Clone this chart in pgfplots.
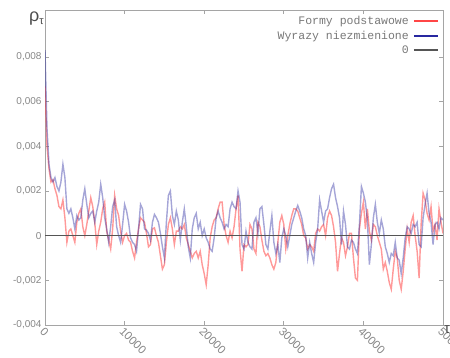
\documentclass[border=0pt]{standalone}
\usepackage{pgfplots}
\pgfplotsset{compat=1.18}
\usepackage{pgfplotstable}
\usepackage{fontspec}
\setmainfont{Liberation Sans}
\newfontfamily\legendfont{Liberation Mono}

\definecolor{formred}{RGB}{255,70,70}
\definecolor{wyrblue}{RGB}{40,40,160}
\definecolor{zerogray}{RGB}{85,85,85}
\definecolor{axgray}{RGB}{165,165,165}
\definecolor{labgray}{RGB}{135,135,135}
\definecolor{leggray}{RGB}{120,120,120}

% autocorrelation rho_tau against lag tau
% forms = "Formy podstawowe", invariant = "Wyrazy niezmienione"
\pgfplotstableread{
x forms invariant
0 0.0067 0.0083
250 0.0040 0.0048
500 0.0030 0.0032
750 0.0024 0.0026
1000 0.0025 0.0024
1250 0.0021 0.0026
1500 0.0018 0.0022
1750 0.0013 0.0020
2000 0.0012 0.0024
2250 0.0016 0.0032
2500 0.0008 0.0026
2750 -0.0003 0.0012
3000 0.0002 0.0010
3250 0.0003 0.0012
3500 0.0000 0.0008
3750 -0.0003 0.0003
4000 0.0006 0.0009
4250 0.0010 0.0007
4500 0.0012 0.0008
4750 0.0004 0.0016
5000 0.0000 0.0021
5250 0.0005 0.0014
5500 0.0011 0.0008
5750 0.0017 0.0010
6000 0.0013 0.0011
6250 0.0006 0.0006
6500 -0.0004 0.0011
6750 0.0002 0.0015
7000 0.0006 0.0023
7250 0.0012 0.0017
7500 0.0015 0.0008
7750 0.0002 0.0003
8000 -0.0002 -0.0003
8250 -0.0006 0.0004
8500 0.0003 0.0013
8750 0.0018 0.0016
9000 0.0012 0.0004
9250 0.0009 0.0000
9500 0.0002 -0.0003
9750 -0.0003 0.0005
10000 0.0000 0.0014
10250 0.0001 0.0011
10500 -0.0002 0.0006
10750 -0.0003 -0.0001
11000 -0.0007 -0.0003
11250 -0.0010 -0.0004
11500 -0.0003 -0.0007
11750 0.0003 0.0003
12000 0.0008 0.0014
12250 0.0007 0.0012
12500 0.0006 0.0003
12750 0.0001 0.00025
13000 -0.0005 0.0001
13250 -0.0004 -0.0002
13500 0.0003 0.0006
13750 0.00035 0.00095
14000 0.0000 0.0008
14250 -0.0003 0.0006
14500 -0.0009 0.0001
14750 -0.0015 -0.0005
15000 -0.0013 -0.0010
15250 -0.0003 0.0006
15500 0.0005 0.0018
15750 0.0008 0.0020
16000 0.0003 0.0009
16250 -0.0004 0.0005
16500 0.0002 0.0011
16750 0.0002 0.0007
17000 0.0004 -0.0002
17250 0.0003 0.0006
17500 0.0005 0.0012
17750 -0.0001 0.0004
18000 -0.0004 -0.0005
18250 -0.0007 -0.0010
18500 -0.0010 0.0003
18750 -0.0008 0.0008
19000 -0.0007 0.0010
19250 -0.0010 0.0003
19500 -0.0007 0.0006
19750 -0.0013 0.0000
20000 -0.0017 0.0003
20250 -0.0022 -0.0001
20500 -0.0013 -0.0003
20750 -0.0001 -0.0006
21000 0.0004 -0.0007
21250 0.0007 -0.0001
21500 0.0008 0.0008
21750 0.0012 0.0011
22000 0.0015 0.0008
22250 0.0015 0.0006
22500 0.0005 0.0003
22750 0.0000 0.0005
23000 -0.0003 0.0004
23250 0.0002 0.0012
23500 -0.0001 0.0015
23750 0.0004 0.0013
24000 0.0012 0.0012
24250 0.0018 0.0020
24500 -0.0006 0.0015
24750 -0.0016 -0.0004
25000 -0.0004 -0.0006
25250 -0.0005 0.0002
25500 -0.0004 -0.0003
25750 0.0005 -0.0005
26000 0.0003 -0.0006
26250 -0.0006 0.0006
26500 -0.0008 0.0008
26750 0.0006 0.0001
27000 0.0004 0.0012
27250 -0.0002 0.0013
27500 -0.0007 0.0005
27750 -0.0009 -0.0004
28000 -0.0008 -0.0006
28250 -0.0010 0.0002
28500 -0.0013 0.0009
28750 -0.0015 -0.0003
29000 -0.0012 -0.0008
29250 -0.0003 -0.0004
29500 0.0006 -0.0012
29750 0.0009 -0.0001
30000 0.0005 0.0003
30250 -0.0006 0.0000
30500 0.0000 -0.0005
30750 0.0005 0.0000
31000 0.0009 0.0005
31250 0.0012 0.0008
31500 0.0012 0.0011
31750 0.0011 0.00135
32000 0.0008 0.0011
32250 0.0005 0.0008
32500 0.0000 0.0003
32750 -0.0001 0.0000
33000 -0.0006 -0.0010
33250 -0.0004 -0.0003
33500 -0.0005 -0.0008
33750 -0.0007 -0.0012
34000 0.0001 -0.0003
34250 0.0003 0.0003
34500 0.0002 0.0016
34750 0.0004 0.0011
35000 0.0005 0.0006
35250 0.0000 0.0011
35500 0.0008 0.0012
35750 0.0011 0.0017
36000 0.0009 0.0021
36250 0.0004 0.0023
36500 -0.0003 0.0017
36750 -0.0016 0.0013
37000 -0.0008 0.0008
37250 -0.0001 -0.0004
37500 -0.0003 0.0011
37750 -0.0009 0.0005
38000 -0.0005 -0.0005
38250 0.0001 -0.0006
38500 0.0001 -0.0002
38750 -0.0010 -0.0003
39000 -0.0019 -0.0006
39250 -0.0020 -0.0008
39500 0.0003 0.0005
39750 0.0010 0.0022
40000 0.0015 0.0019
40250 0.0003 0.0015
40500 0.0012 0.0007
40750 0.0002 -0.0013
41000 -0.0002 -0.0004
41250 0.0005 0.0008
41500 0.0004 0.0014
41750 0.0000 0.0006
42000 -0.0003 0.0001
42250 -0.0006 0.0007
42500 -0.0015 0.0003
42750 -0.0012 -0.0005
43000 -0.0016 -0.0008
43250 -0.0021 -0.0012
43500 -0.0024 -0.0008
43750 -0.0015 -0.0009
44000 -0.0007 -0.0003
44250 -0.0010 -0.0010
44500 -0.0020 -0.0011
44750 -0.0024 -0.0017
45000 -0.0016 -0.0010
45250 -0.0006 -0.0001
45500 0.0003 0.0004
45750 -0.0003 0.0003
46000 0.0006 0.0001
46250 0.0009 0.0005
46500 0.0000 0.0004
46750 -0.0007 0.0006
47000 -0.0019 -0.0004
47250 0.0005 -0.0005
47500 0.0019 0.0008
47750 0.0016 0.0014
48000 0.0010 0.0019
48250 0.0007 0.0010
48500 0.0013 0.0006
48750 0.0002 -0.0004
49000 0.0005 0.0005
49250 -0.0002 0.0006
49500 0.0012 0.0003
49750 0.0006 0.0008
50000 0.0001 0.0007
}\datatab

\begin{document}
\begin{tikzpicture}
\begin{axis}[
  scale only axis,
  width=398pt, height=315pt,
  at={(0,0)}, anchor=south west,
  xmin=0, xmax=50000,
  ymin=-0.004, ymax=0.0101,
  xtick={0,10000,20000,30000,40000,50000},
  ytick={-0.004,-0.002,0,0.002,0.004,0.006,0.008},
  scaled ticks=false,
  axis line style={axgray, line width=0.9pt},
  tick style={axgray, line width=0.8pt},
  major tick length=4pt,
  tick align=inside,
  /pgf/number format/assume math mode=true,
  yticklabel style={font=\fontsize{10}{10}\selectfont, text=labgray,
    /pgf/number format/.cd, fixed, precision=3, use comma},
  xticklabel style={font=\fontsize{11.5}{12}\selectfont, text=labgray,
    rotate=-45, anchor=north west, inner sep=1pt,
    /pgf/number format/1000 sep={}},
  every axis y label/.style={at={(rel axis cs:0,1)}, anchor=north east,
    inner sep=1pt, yshift=-1pt, font=\fontsize{18}{18}\selectfont, text=black!70},
  every axis x label/.style={at={(rel axis cs:1,0)}, anchor=north west,
    inner sep=0pt, xshift=1pt, font=\fontsize{15}{15}\selectfont, text=black!70},
  ylabel={ρ\raisebox{-0.3ex}{\fontsize{11}{11}\selectfont τ}},
  xlabel={τ},
  legend style={at={(1,1)}, anchor=north east, xshift=-4pt, yshift=-4pt,
    draw=none, fill=none, inner sep=0pt, row sep=1pt, column sep=2pt,
    font=\legendfont\fontsize{11.5}{12}\selectfont, text=leggray},
  legend cell align=right,
  legend plot pos=right,
  legend image code/.code={\draw[#1, line width=2pt] (0pt,0pt) -- (24pt,0pt);},
]
\addplot[formred, opacity=0.55, line width=1.4pt, forget plot]
  table[x=x, y=forms] {\datatab};
\addplot[wyrblue, opacity=0.42, line width=1.4pt, forget plot]
  table[x=x, y=invariant] {\datatab};
\addplot[zerogray, line width=1pt, forget plot] coordinates {(0,0) (50000,0)};

\addlegendimage{formred}
\addlegendentry{Formy podstawowe}
\addlegendimage{wyrblue}
\addlegendentry{Wyrazy niezmienione}
\addlegendimage{zerogray}
\addlegendentry{0}
\end{axis}
\pgfresetboundingbox
\path ([shift={(-45pt,-32pt)}]current axis.south west)
  rectangle ([shift={(7pt,10pt)}]current axis.north east);
\end{tikzpicture}
\end{document}
